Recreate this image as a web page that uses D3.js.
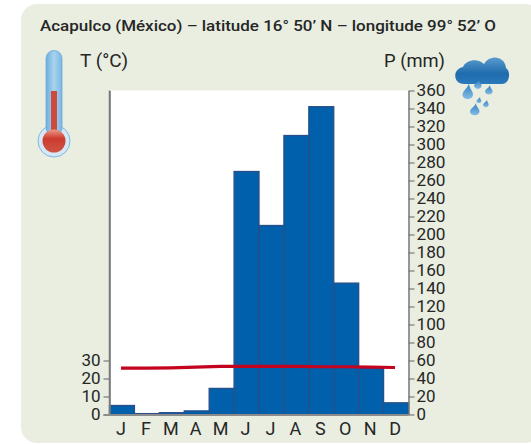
<!DOCTYPE html>
<html>
<head>
<meta charset="utf-8">
<script src="https://cdn.jsdelivr.net/npm/d3@7"></script>
<style>
  html, body { margin: 0; padding: 0; background: #fff; }
  text { font-family: Roboto, "Noto Sans", sans-serif; fill: #262626; }
</style>
</head>
<body>
<svg id="chart" width="531" height="444"></svg>
<script>
// Values
const months = ["J", "F", "M", "A", "M", "J", "J", "A", "S", "O", "N", "D"];
const monthKeys = d3.range(12);
const precipitation = [10, 1, 2, 4, 29, 270, 210, 310, 342, 146, 52, 13];
const temperature = [26, 26, 26.2, 26.6, 27, 27, 27, 27, 26.8, 26.8, 26.6, 26.4];
const precipTicks = d3.range(0, 361, 20);
const tempTicks = [0, 10, 20, 30];

const title = "Acapulco (México) – latitude 16° 50’ N – longitude 99° 52’ O";

const svg = d3.select("#chart");
const defs = svg.append("defs");

const plotLeft = 109.5, plotRight = 408.5, plotTop = 90.5, plotBottom = 414.5;

const x = d3.scaleBand().domain(monthKeys).range([plotLeft, plotRight]).padding(0);
const yP = d3.scaleLinear().domain([0, 360]).range([plotBottom, plotTop]);
const yT = d3.scaleLinear().domain([0, 180]).range([plotBottom, plotTop]);

// Panel
svg.append("rect")
  .attr("x", 21).attr("y", 4)
  .attr("width", 520).attr("height", 439)
  .attr("rx", 16)
  .attr("fill", "#e9eee1");
svg.append("rect")
  .attr("x", plotLeft).attr("y", plotTop)
  .attr("width", plotRight - plotLeft).attr("height", plotBottom - plotTop)
  .attr("fill", "#fff");

// Bars
svg.append("g")
  .selectAll("rect")
  .data(precipitation)
  .enter().append("rect")
  .attr("x", (d, i) => x(i))
  .attr("y", d => yP(d))
  .attr("width", x.bandwidth())
  .attr("height", d => plotBottom - yP(d))
  .attr("fill", "#0060ab")
  .attr("stroke", "#2a4f86")
  .attr("stroke-width", 1.3);

// Temperature line
svg.append("path")
  .datum(temperature)
  .attr("fill", "none")
  .attr("stroke", "#c4031f")
  .attr("stroke-width", 3.2)
  .attr("d", d3.line().x((d, i) => x(i) + x.bandwidth() / 2 - 1).y(d => yT(d) + 0.5));

// Axes
function styleAxis(g) {
  g.selectAll(".domain").attr("stroke", "#77797a").attr("stroke-width", 1.5);
  g.selectAll(".tick line").attr("stroke", "#77797a").attr("stroke-width", 1.2);
  g.selectAll("text").attr("fill", "#262626").style("font-family", "Roboto, sans-serif");
}

const rightAxis = svg.append("g")
  .attr("transform", `translate(${plotRight},0)`)
  .call(d3.axisRight(yP).tickValues(precipTicks).tickSize(6).tickPadding(2).tickSizeOuter(0))
  .call(styleAxis);
rightAxis.selectAll("text")
  .attr("font-size", 17)
  .attr("textLength", 29)
  .attr("lengthAdjust", "spacingAndGlyphs");
rightAxis.selectAll("text")
  .filter(d => d < 100).attr("textLength", 19);
rightAxis.selectAll("text")
  .filter(d => d === 0).attr("textLength", 9.5);

const leftAxis = svg.append("g")
  .attr("transform", `translate(${plotLeft},0)`)
  .call(d3.axisLeft(yT).tickValues(tempTicks).tickSize(6).tickPadding(3).tickSizeOuter(0))
  .call(styleAxis);
leftAxis.selectAll("text").attr("font-size", 17);
// left axis line runs the full height of the plot
svg.append("line")
  .attr("x1", plotLeft).attr("x2", plotLeft)
  .attr("y1", plotTop).attr("y2", plotBottom)
  .attr("stroke", "#77797a").attr("stroke-width", 1.5);
svg.append("line")
  .attr("x1", plotLeft - 6).attr("x2", plotRight)
  .attr("y1", plotBottom + 0.5).attr("y2", plotBottom + 0.5)
  .attr("stroke", "#8b8d8d").attr("stroke-width", 2);

// Month labels
svg.append("g")
  .selectAll("text")
  .data(months)
  .enter().append("text")
  .attr("x", (d, i) => x(i) + x.bandwidth() / 2 - 1)
  .attr("y", 435)
  .attr("text-anchor", "middle")
  .attr("font-size", 18)
  .text(d => d);

// Titles
svg.append("text")
  .attr("x", 40).attr("y", 31)
  .attr("font-size", 15)
  .attr("font-weight", 500)
  .attr("textLength", 456)
  .attr("lengthAdjust", "spacingAndGlyphs")
  .text(title);
svg.append("text").attr("x", 80).attr("y", 67).attr("font-size", 18)
  .attr("textLength", 48).attr("lengthAdjust", "spacingAndGlyphs").text("T (°C)");
svg.append("text").attr("x", 384).attr("y", 67).attr("font-size", 18)
  .attr("textLength", 61).attr("lengthAdjust", "spacingAndGlyphs").text("P (mm)");

// Thermometer icon
const tubeGrad = defs.append("linearGradient").attr("id", "tube");
tubeGrad.append("stop").attr("offset", 0).attr("stop-color", "#6eaede");
tubeGrad.append("stop").attr("offset", 0.5).attr("stop-color", "#a9d3ef");
tubeGrad.append("stop").attr("offset", 1).attr("stop-color", "#7ab6e2");
const bulbGrad = defs.append("linearGradient").attr("id", "bulb").attr("x2", 0).attr("y2", 1);
bulbGrad.append("stop").attr("offset", 0).attr("stop-color", "#ec9a88");
bulbGrad.append("stop").attr("offset", 0.4).attr("stop-color", "#cd3b2e");
bulbGrad.append("stop").attr("offset", 1).attr("stop-color", "#cc5546");

const thermo = svg.append("g");
thermo.append("circle").attr("cx", 54).attr("cy", 141).attr("r", 16)
  .attr("fill", "#d6e8f6").attr("stroke", "#7db7e3").attr("stroke-width", 1);
thermo.append("rect").attr("x", 46).attr("y", 50.5).attr("width", 16).attr("height", 85).attr("rx", 8)
  .attr("fill", "url(#tube)").attr("stroke", "#6aa7d8").attr("stroke-width", 0.8);
thermo.append("rect").attr("x", 51).attr("y", 91).attr("width", 6).attr("height", 45)
  .attr("fill", "#cf4a3a");
thermo.append("circle").attr("cx", 54).attr("cy", 141).attr("r", 11.5)
  .attr("fill", "url(#bulb)");

// Rain cloud icon
const cloudGrad = defs.append("linearGradient").attr("id", "cloud").attr("x2", 0).attr("y2", 1);
cloudGrad.append("stop").attr("offset", 0).attr("stop-color", "#5b9bce");
cloudGrad.append("stop").attr("offset", 0.6).attr("stop-color", "#1f6cae");
cloudGrad.append("stop").attr("offset", 1).attr("stop-color", "#2a79ba");
const dropGrad = defs.append("linearGradient").attr("id", "drop").attr("x2", 0).attr("y2", 1);
dropGrad.append("stop").attr("offset", 0).attr("stop-color", "#2f7dbd");
dropGrad.append("stop").attr("offset", 1).attr("stop-color", "#86bde5");

const cloud = svg.append("g");
cloud.append("path")
  .attr("fill", "url(#cloud)")
  .attr("d", "M464,84 C453,84 452,69 463,67 C466,59 479,58 484,64 C490,54 505,56 506,68 C511,71 510,84 502,84 Z");
[[468, 83, 5.5, 18], [478, 80, 4, 9], [489, 85, 4, 10], [479, 97, 2.5, 6.5], [475, 103, 5, 13], [486, 100, 3, 7.5]]
  .forEach(d => {
    const [cx, cy, r, h] = d;
    cloud.append("path")
      .attr("fill", "url(#drop)")
      .attr("d", `M${cx + 1},${cy} C${cx + 1},${cy + h * 0.35} ${cx + r},${cy + h * 0.4} ${cx + r * 0.9},${cy + h * 0.7} A${r},${r * 0.95} 0 0 1 ${cx - r},${cy + h * 0.7} C${cx - r},${cy + h * 0.4} ${cx},${cy + h * 0.3} ${cx + 1},${cy} Z`);
  });
</script>
</body>
</html>
